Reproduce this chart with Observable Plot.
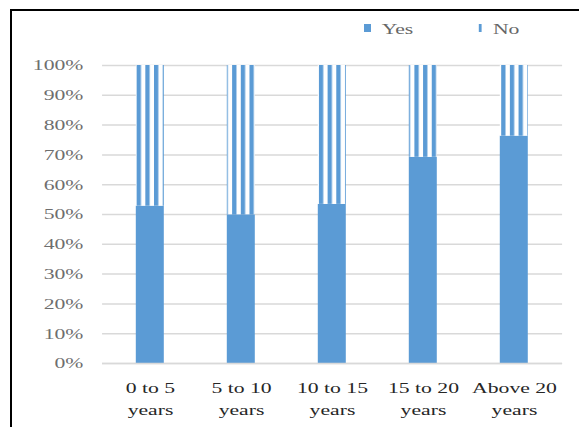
<!DOCTYPE html>
<html>
<head>
<meta charset="utf-8">
<script src="https://cdn.jsdelivr.net/npm/d3@7"></script>
<script src="https://cdn.jsdelivr.net/npm/@observablehq/plot@0.6"></script>
<style>
  html, body { margin: 0; padding: 0; background: #fff; }
  #page { position: relative; width: 579px; height: 427px; overflow: hidden; }
  #frameTop { position: absolute; left: 10px; top: 9px; width: 569px; height: 2px; background: #000; }
  #frameLeft { position: absolute; left: 10px; top: 9px; width: 2px; height: 418px; background: #000; }
  #stretch { position: absolute; left: 0; top: 0; width: 413.6px; height: 427px; transform: scaleX(1.4); transform-origin: 0 0; }
  .lg { position: absolute; font-family: "Liberation Serif", serif; font-size: 15.5px; line-height: 16px; color: #666; white-space: nowrap; }
  .sw { position: absolute; background: #5b9bd5; }
</style>
</head>
<body>
<div id="page">
  <div id="stretch">
    <div id="chart"></div>
    <div class="sw" style="left:259.5px; top:24px; width:5.4px; height:8px;"></div>
    <div class="lg" style="left:272.6px; top:20.8px;">Yes</div>
    <div class="sw" style="left:342.4px; top:24px; width:2.1px; height:8px;"></div>
    <div class="lg" style="left:352.1px; top:20.8px;">No</div>
  </div>
  <div id="frameTop"></div>
  <div id="frameLeft"></div>
</div>
<script>
const categories = ["0 to 5 years", "5 to 10 years", "10 to 15 years", "15 to 20 years", "Above 20 years"];
const tickLabels = ["0 to 5\nyears", "5 to 10\nyears", "10 to 15\nyears", "15 to 20\nyears", "Above 20\nyears"];
const yesValues = [52.8, 49.9, 53.4, 69.2, 76.3];
const noValues = yesValues.map(v => 100 - v);
const yTicks = [0, 10, 20, 30, 40, 50, 60, 70, 80, 90, 100];

const data = categories.map((c, i) => ({category: c, yes: yesValues[i], no: noValues[i]}));
const labelOf = new Map(categories.map((c, i) => [c, tickLabels[i]]));

const blue = "#5b9bd5";
const font = "Liberation Serif";

const chart = Plot.plot({
  width: 413.6,
  height: 427,
  marginTop: 65,
  marginBottom: 64,
  marginLeft: 72.9,
  marginRight: 12.1,
  style: {fontFamily: font, fontSize: "15.5px", background: "transparent"},
  x: {domain: categories, paddingInner: 0.685, paddingOuter: 0.3425, label: null},
  y: {domain: [0, 100], label: null},
  marks: [
    Plot.gridY(yTicks, {stroke: "#d9d9d9", strokeOpacity: 1, strokeWidth: 1.5}),
    Plot.barY(data, {x: "category", y1: 0, y2: "yes", fill: blue}),
    Plot.barY(data, {x: "category", y1: "yes", y2: 100, fill: "url(#stripes)"}),
    Plot.ruleY([0], {stroke: "#d9d9d9", strokeWidth: 1.5}),
    Plot.axisY({ticks: yTicks, tickSize: 0, tickPadding: 13.8, tickFormat: d => d + "%", color: "#6e6e6e", fontSize: 15.5, label: null}),
    Plot.axisX({tickSize: 0, tickPadding: 15, tickFormat: d => labelOf.get(d), lineHeight: 1.36, color: "#262626", fontSize: 15.5, label: null})
  ]
});

const svg = d3.select(chart);
const defs = svg.insert("defs", ":first-child");
const pat = defs.append("pattern")
  .attr("id", "stripes")
  .attr("patternUnits", "userSpaceOnUse")
  .attr("x", 4.6).attr("y", 0)
  .attr("width", 6.2).attr("height", 10);
pat.append("rect").attr("width", 6.2).attr("height", 10).attr("fill", "#fff");
pat.append("rect").attr("width", 3.1).attr("height", 10).attr("fill", blue);

document.getElementById("chart").appendChild(chart);
</script>
</body>
</html>
